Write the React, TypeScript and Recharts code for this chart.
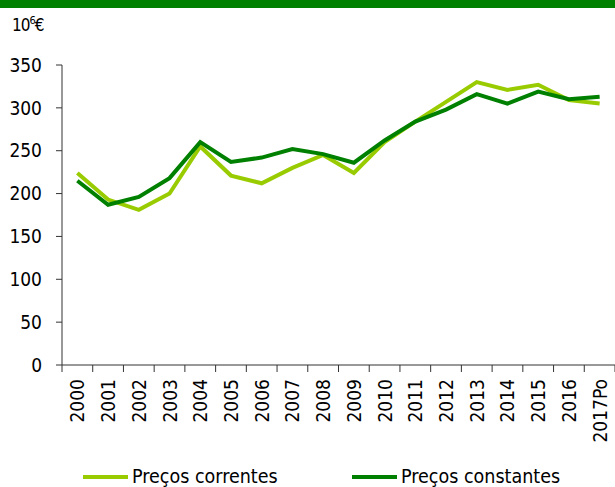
import { LineChart, Line, XAxis, YAxis } from "recharts";

const years = [
	"2000", "2001", "2002", "2003", "2004", "2005", "2006", "2007", "2008",
	"2009", "2010", "2011", "2012", "2013", "2014", "2015", "2016", "2017Po",
];
const correntes = [
	224, 193, 181, 200, 255, 221, 212, 230, 245, 224, 260, 284, 307, 330, 321, 327, 309, 305,
];
const constantes = [
	215, 187, 196, 218, 260, 237, 242, 252, 246, 236, 262, 284, 298, 316, 305, 319, 310, 313,
];
const yTicks = [0, 50, 100, 150, 200, 250, 300, 350];
const seriesNames = ["Preços correntes", "Preços constantes"];
const unitLabel = "10";

const data = years.map((year, i) => ({
	year,
	correntes: correntes[i],
	constantes: constantes[i],
}));

const FONT = '"DejaVu Sans Condensed", Tahoma, "Liberation Sans", sans-serif';
const LIGHT = "#99CC00";
const DARK = "#008000";
const AXIS = "#333333";

// excel-style ticks: marks sit on the category boundaries, labels in the middle
function YearTick(props: any) {
	const { x, y, payload, index } = props;
	const half = payload.offset ?? 15.4;
	const last = index === years.length - 1;
	return (
		<g>
			<line x1={x - half} y1={y} x2={x - half} y2={y + 7} stroke={AXIS} />
			{last && <line x1={x + half} y1={y} x2={x + half} y2={y + 7} stroke={AXIS} />}
			<text
				x={x}
				y={y + 14}
				transform={`rotate(-90 ${x} ${y + 14})`}
				textAnchor="end"
				dominantBaseline="central"
				fontFamily={FONT}
				fontSize={19}
				fill="#000"
			>
				{payload.value}
			</text>
		</g>
	);
}

export default function App() {
	return (
		<div style={{ position: "absolute", left: 0, top: 0, width: 615, height: 487, background: "#fff" }}>
			<div style={{ position: "absolute", left: 0, top: 0, width: 615, height: 8, background: DARK }} />
			<div
				style={{
					position: "absolute",
					left: 12,
					top: 14,
					fontFamily: FONT,
					fontSize: 17,
					color: "#000",
					letterSpacing: -1,
				}}
			>
				{unitLabel}
				<sup style={{ fontSize: 11 }}>6</sup>€
			</div>
			<div style={{ position: "absolute", left: 0, top: 0 }}>
				<LineChart
					width={615}
					height={487}
					data={data}
					margin={{ top: 65, right: 0, left: 0, bottom: 0 }}
				>
					<XAxis
						dataKey="year"
						scale="band"
						interval={0}
						height={122}
						tickLine={false}
						tickSize={0}
						tickMargin={0}
						stroke={AXIS}
						tick={<YearTick />}
					/>
					<YAxis
						domain={[0, 350]}
						ticks={yTicks}
						width={62}
						tickSize={6}
						tickMargin={14}
						stroke={AXIS}
						tick={{ fill: "#000", fontSize: 19, fontFamily: FONT }}
						interval={0}
					/>
					<Line
						type="linear"
						dataKey="correntes"
						name={seriesNames[0]}
						stroke={LIGHT}
						strokeWidth={4}
						dot={false}
						isAnimationActive={false}
					/>
					<Line
						type="linear"
						dataKey="constantes"
						name={seriesNames[1]}
						stroke={DARK}
						strokeWidth={4}
						dot={false}
						isAnimationActive={false}
					/>
				</LineChart>
			</div>
			{[LIGHT, DARK].map((c, i) => (
				<div
					key={i}
					style={{
						position: "absolute",
						left: i === 0 ? 83 : 352,
						top: 465,
						display: "flex",
						alignItems: "center",
						fontFamily: FONT,
						fontSize: 19.5,
						color: "#000",
						whiteSpace: "nowrap",
					}}
				>
					<span style={{ display: "inline-block", width: 45, height: 4, background: c, marginRight: 4 }} />
					{seriesNames[i]}
				</div>
			))}
		</div>
	);
}
